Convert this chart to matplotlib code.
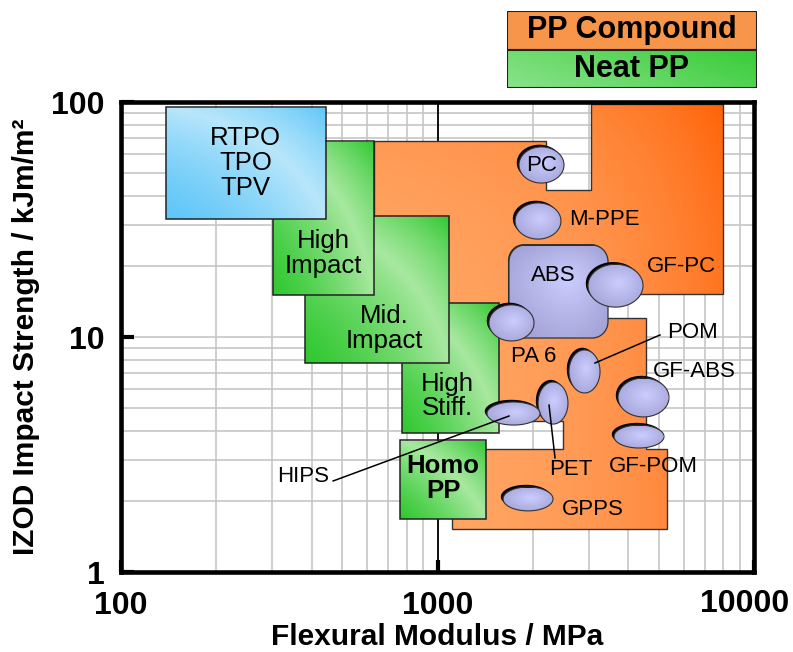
import numpy as np
import matplotlib
matplotlib.use('Agg')
import matplotlib.pyplot as plt
from matplotlib.patches import Rectangle, Polygon
from matplotlib.transforms import ScaledTranslation
from matplotlib.colors import LinearSegmentedColormap

plt.rcParams['font.family'] = ['Liberation Sans', 'DejaVu Sans']

# PP grade windows: flexural modulus (MPa) x izod (kJ/m2) ranges
grade_names = ['High\nStiff.', 'Mid.\nImpact', 'High\nImpact', 'RTPO\nTPO\nTPV', 'Homo\nPP']
grade_x_lo = [772, 381, 302, 139, 761]
grade_x_hi = [1564, 1087, 630, 445, 1423]
grade_y_lo = [3.90, 7.75, 15.1, 31.8, 1.68]
grade_y_hi = [13.95, 32.7, 68.2, 95.2, 3.64]
grade_lab_x = [1072, 678, 436, 248, 1041]
grade_lab_y = [5.61, 10.87, 22.6, 55.0, 2.50]

# PP compound envelope (outline vertices)
compound_x = [630, 2200, 2200, 3050, 3050, 8000, 8000, 3250, 3250, 4550,
              4550, 5300, 5300, 1110, 1110, 2500, 2500, 880, 880, 630]
compound_y = [68.2, 68.2, 42.2, 42.2, 98, 98, 15.3, 15.3, 12.0, 12.0,
              3.35, 3.35, 1.52, 1.52, 3.35, 3.35, 4.4, 4.4, 23.5, 23.5]

# engineering resins: property ranges
resins = ['PC', 'M-PPE', 'GF-PC', 'PA 6', 'POM', 'PET', 'HIPS', 'GF-ABS', 'GF-POM', 'GPPS']
resin_x_lo = [1809, 1758, 2989, 1454, 2603, 2078, 1433, 3718, 3612, 1611]
resin_x_hi = [2510, 2455, 4460, 2018, 3262, 2584, 2108, 5388, 5195, 2317]
resin_y_lo = [45.2, 26.1, 13.4, 9.62, 5.78, 4.26, 4.22, 4.57, 3.37, 1.82]
resin_y_hi = [64.4, 37.2, 20.4, 13.7, 8.81, 6.43, 5.29, 6.69, 4.22, 2.30]
resin_lab_x = [2132, 3359, 5882, 2018, 6370, 2642, 376, 6463, 4814, 3088]
resin_lab_y = [53.9, 31.6, 20.05, 8.30, 10.5, 2.72, 2.54, 7.13, 2.80, 1.845]

abs_x = [1682, 3457]
abs_y = [9.9, 24.6]

# leader lines: resin -> label
leaders = {'POM': ([3145, 5047], [7.75, 10.2]),
           'PET': ([2251, 2351], [5.13, 3.06]),
           'HIPS': ([1682, 468], [4.61, 2.44])}

x_ticks = [100, 1000, 10000]
y_ticks = [1, 10, 100]

fig = plt.figure(figsize=(7.93, 6.52), dpi=100)
ax = fig.add_axes([121 / 793, 1 - 572 / 652, 633 / 793, 470 / 652])
ax.set_xscale('log')
ax.set_yscale('log')
ax.set_xlim(100, 10000)
ax.set_ylim(1, 100)

green = LinearSegmentedColormap.from_list('g', ['#30c830', '#a8e8a0'])
blue = LinearSegmentedColormap.from_list('b', ['#5ec6f8', '#b8e6fb'])
orange = LinearSegmentedColormap.from_list('o', ['#ffa868', '#ff6206'])
lav = LinearSegmentedColormap.from_list('l', ['#cccdff', '#a4a4d8'])

u = np.linspace(0, 1, 160)
U, V = np.meshgrid(u, u)
mirror = 1 - np.abs(U + V - 1)
diag = 0.7 * U + 0.3 * V
radial = np.clip(np.hypot(2 * U - 1, 2 * V - 1) / 1.2, 0, 1)


def fill_gradient(patch, x0, x1, y0, y1, grid, cmap, z):
    im = ax.imshow(grid, extent=(x0, x1, y0, y1), origin='lower', cmap=cmap,
                   vmin=0, vmax=1, aspect='auto', interpolation='bilinear', zorder=z)
    im.set_clip_path(patch)


def ellipse_pts(xl, xh, yl, yh, n=120):
    lx, hx, ly, hy = np.log10([xl, xh, yl, yh])
    t = np.linspace(0, 2 * np.pi, n)
    return np.column_stack([10 ** ((lx + hx) / 2 + (hx - lx) / 2 * np.cos(t)),
                            10 ** ((ly + hy) / 2 + (hy - ly) / 2 * np.sin(t))])


def round_rect_pts(xl, xh, yl, yh, rx=0.05, ry=0.07, n=20):
    lx, hx, ly, hy = np.log10([xl, xh, yl, yh])
    pts = []
    corners = [(hx - rx, hy - ry, 0), (lx + rx, hy - ry, 90),
               (lx + rx, ly + ry, 180), (hx - rx, ly + ry, 270)]
    for cx, cy, a0 in corners:
        a = np.radians(np.linspace(a0, a0 + 90, n))
        pts.extend(zip(cx + rx * np.cos(a), cy + ry * np.sin(a)))
    return 10 ** np.array(pts)


# grid, with the 1000 MPa line in black
ax.set_axisbelow(True)
ax.grid(which='both', color='#c6c6c6', lw=1.2)
ax.axvline(1000, color='black', lw=1.3, zorder=1)

# compound envelope
env = Polygon(np.column_stack([compound_x, compound_y]), closed=True,
              fc='none', ec='#333333', lw=1, zorder=2.1)
ax.add_patch(env)
fill_gradient(env, min(compound_x), max(compound_x), min(compound_y), max(compound_y),
              diag, orange, 2)

# neat PP grade boxes
for i, name in enumerate(grade_names):
    z = 3 + i * 0.2
    r = Rectangle((grade_x_lo[i], grade_y_lo[i]), grade_x_hi[i] - grade_x_lo[i],
                  grade_y_hi[i] - grade_y_lo[i], fc='none', ec='#222222', lw=1.1, zorder=z + 0.1)
    ax.add_patch(r)
    cm = blue if name.startswith('RTPO') else green
    fill_gradient(r, grade_x_lo[i], grade_x_hi[i], grade_y_lo[i], grade_y_hi[i], mirror, cm, z)
    bold = 'bold' if name.startswith('Homo') else 'normal'
    ax.text(grade_lab_x[i], grade_lab_y[i], name, ha='center', va='center',
            fontsize=18.5, fontweight=bold, linespacing=1.05, zorder=z + 0.15)

shadow = ax.transData + ScaledTranslation(-0.022, 0.022, fig.dpi_scale_trans)

# ABS block
abs_pts = round_rect_pts(abs_x[0], abs_x[1], abs_y[0], abs_y[1])
ax.add_patch(Polygon(abs_pts, closed=True, fc='#222222', ec='none', zorder=4.8,
                     transform=ax.transData + ScaledTranslation(-0.01, 0.01, fig.dpi_scale_trans)))
abs_patch = Polygon(abs_pts, closed=True, fc='none', ec='#333333', lw=0.9, zorder=5.1)
ax.add_patch(abs_patch)
fill_gradient(abs_patch, abs_x[0], abs_x[1], abs_y[0], abs_y[1], radial, lav, 5)
ax.text(2317, 18.3, 'ABS', ha='center', va='center', fontsize=16, zorder=7)

# resin ellipses
for i, name in enumerate(resins):
    pts = ellipse_pts(resin_x_lo[i], resin_x_hi[i], resin_y_lo[i], resin_y_hi[i])
    z = 5.5 + i * 0.1
    ax.add_patch(Polygon(pts, closed=True, fc='black', ec='none', zorder=z - 0.02,
                         transform=shadow))
    el = Polygon(pts, closed=True, fc='none', ec='#333333', lw=0.8, zorder=z + 0.02)
    ax.add_patch(el)
    fill_gradient(el, resin_x_lo[i], resin_x_hi[i], resin_y_lo[i], resin_y_hi[i], radial, lav, z)
    ax.text(resin_lab_x[i], resin_lab_y[i], name, ha='center', va='center',
            fontsize=16, zorder=8)

for name, (lx, ly) in leaders.items():
    ax.plot(lx, ly, color='black', lw=1.1, zorder=7.5)

# axes styling
for s in ax.spines.values():
    s.set_linewidth(3.3)
    s.set_zorder(9)
ax.set_xticks(x_ticks, labels=[str(v) for v in x_ticks[:-1]] + [''])
ax.set_yticks(y_ticks, labels=[str(v) for v in y_ticks])
ax.xaxis.set_minor_formatter(plt.NullFormatter())
ax.yaxis.set_minor_formatter(plt.NullFormatter())
ax.tick_params(which='major', direction='in', length=9, width=3, labelsize=23)
ax.tick_params(axis='x', pad=14)
ax.tick_params(axis='y', pad=12)
ax.tick_params(which='minor', length=0)
for lab in ax.get_xticklabels() + ax.get_yticklabels():
    lab.set_fontweight('bold')
# last x label pulled in a little so it stays inside the figure
ax.annotate(str(x_ticks[-1]), xy=(x_ticks[-1], 0), xycoords=('data', 'axes fraction'),
            xytext=(-7, -12.5), textcoords='offset points', ha='center', va='top',
            fontsize=23, fontweight='bold', annotation_clip=False)

ax.set_xlabel('Flexural Modulus / MPa', fontsize=21.5, fontweight='bold')
ax.set_ylabel('IZOD Impact Strength / kJm/m²', fontsize=21.5, fontweight='bold')
ax.xaxis.set_label_coords(0.5, -0.108)
ax.yaxis.set_label_coords(-0.128, 0.5)

# key boxes above the plot
lax = fig.add_axes([507 / 793, 1 - 88 / 652, 250 / 793, 77 / 652])
lax.set_xlim(0, 1)
lax.set_ylim(0, 2)
lax.axis('off')
lax.add_patch(Rectangle((0, 1), 1, 1, fc='#f7964a', ec='#222222', lw=1.5))
key = Rectangle((0, 0), 1, 1, fc='none', ec='#222222', lw=1.5, zorder=3)
lax.add_patch(key)
im = lax.imshow(1 - diag, extent=(0, 1, 0, 1), origin='lower',
                cmap=LinearSegmentedColormap.from_list('k', ['#38cc38', '#8ae38a']),
                aspect='auto', zorder=2)
im.set_clip_path(key)
lax.text(0.5, 1.5, 'PP Compound', ha='center', va='center', fontsize=22, fontweight='bold')
lax.text(0.5, 0.5, 'Neat PP', ha='center', va='center', fontsize=22, fontweight='bold', zorder=4)

fig.savefig('out.png', dpi=100)
